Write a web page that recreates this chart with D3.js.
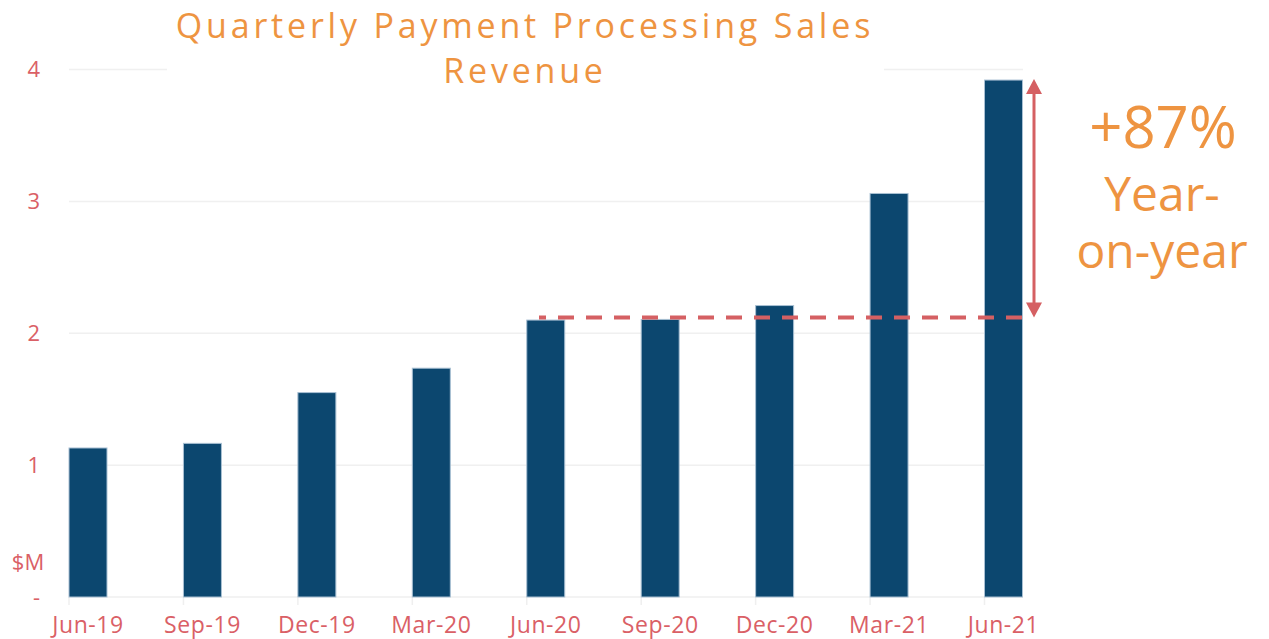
<!DOCTYPE html>
<html>
<head>
<meta charset="utf-8">
<script src="https://cdn.jsdelivr.net/npm/d3@7"></script>
<style>
  body { margin: 0; background: #fff; }
  svg { display: block; }
</style>
</head>
<body>
<div id="chart"></div>
<script>
// quarterly revenue, $M
const quarters = ["Jun-19", "Sep-19", "Dec-19", "Mar-20", "Jun-20", "Sep-20", "Dec-20", "Mar-21", "Jun-21"];
const revenue = [1.13, 1.165, 1.55, 1.735, 2.10, 2.105, 2.21, 3.06, 3.92];
const yTicks = [0, 1, 2, 3, 4];
const yTickLabels = ["-", "1", "2", "3", "4"];
const baseLevel = 2.12;   // dashed reference (a year earlier)
const growthLabel = ["+87%", "Year-", "on-year"];
const titleLines = ["Quarterly Payment Processing Sales", "Revenue"];

const W = 1269, H = 639;
const labelColor = "#da6066",
  accent = "#d56063",
  orange = "#ee9441",
  barColor = "#0c476f";
const font = "'Open Sans', sans-serif";

const svg = d3.select("#chart").append("svg")
  .attr("width", W)
  .attr("height", H);

const x = d3.scaleBand()
  .domain(quarters)
  .range([69, 1022.5])
  .paddingInner(0.668)
  .paddingOuter(0);

const y = d3.scaleLinear()
  .domain([0, 4])
  .range([597, 69.5]);

// gridlines
svg.append("g").selectAll("line").data(yTicks.slice(1))
  .join("line")
  .attr("x1", 69)
  .attr("x2", 1023)
  .attr("y1", d => y(d))
  .attr("y2", d => y(d))
  .attr("stroke", "#f0f0f0")
  .attr("stroke-width", 1.5);

// x baseline + ticks at the left edge of each bar
svg.append("line")
  .attr("x1", 69).attr("x2", 1023)
  .attr("y1", y(0)).attr("y2", y(0))
  .attr("stroke", "#efefef").attr("stroke-width", 1.5);
svg.append("g").selectAll("line").data(quarters)
  .join("line")
  .attr("x1", d => x(d)).attr("x2", d => x(d))
  .attr("y1", y(0)).attr("y2", y(0) + 8)
  .attr("stroke", "#efefef").attr("stroke-width", 1.5);

// y labels
const yAxisG = svg.append("g")
  .attr("transform", "translate(40,0)")
  .call(d3.axisLeft(y).tickValues(yTicks).tickSize(0).tickPadding(0)
    .tickFormat((d, i) => yTickLabels[i]));
yAxisG.select(".domain").remove();
yAxisG.selectAll("text")
  .attr("fill", labelColor)
  .style("font-family", font)
  .style("font-size", "22px");

svg.append("text")
  .attr("x", 28).attr("y", 570)
  .attr("text-anchor", "middle")
  .attr("fill", labelColor)
  .style("font-family", font)
  .style("font-size", "22px")
  .text("$M");

// x labels
const xAxisG = svg.append("g")
  .attr("transform", `translate(0, ${y(0)})`)
  .call(d3.axisBottom(x).tickSize(0).tickPadding(20));
xAxisG.select(".domain").remove();
xAxisG.selectAll("text")
  .attr("fill", labelColor)
  .style("font-family", font)
  .style("font-size", "23px")
  .style("letter-spacing", "0.6px");

// bars
svg.append("g").selectAll("rect").data(quarters)
  .join("rect")
  .attr("x", d => x(d))
  .attr("y", (d, i) => y(revenue[i]))
  .attr("width", x.bandwidth())
  .attr("height", (d, i) => y(0) - y(revenue[i]))
  .attr("fill", barColor)
  .attr("stroke", "#a9c0d3")
  .attr("stroke-width", 1);

// title with white backing that hides the top gridline
svg.append("rect")
  .attr("x", 167).attr("y", 0)
  .attr("width", 717).attr("height", 95)
  .attr("fill", "#fff");
svg.append("text")
  .attr("text-anchor", "middle")
  .attr("fill", orange)
  .style("font-family", font)
  .style("font-size", "34px")
  .style("letter-spacing", "3.8px")
  .selectAll("tspan").data(titleLines)
  .join("tspan")
  .attr("x", 525)
  .attr("y", (d, i) => 38 + i * 45)
  .text(d => d);

// dashed level line
svg.append("line")
  .attr("x1", 539).attr("x2", 1022)
  .attr("y1", y(baseLevel)).attr("y2", y(baseLevel))
  .attr("stroke", accent)
  .attr("stroke-width", 4)
  .attr("stroke-dasharray", "16 12")
  .attr("stroke-dashoffset", 9);

// double arrow
const ax = 1034,
  yTop = y(revenue[revenue.length - 1]) - 1,
  yBot = y(baseLevel);
svg.append("line")
  .attr("x1", ax).attr("x2", ax)
  .attr("y1", yTop + 12).attr("y2", yBot - 12)
  .attr("stroke", accent).attr("stroke-width", 3);
svg.append("path")
  .attr("d", `M${ax},${yTop} L${ax - 8},${yTop + 15} L${ax + 8},${yTop + 15} Z`)
  .attr("fill", accent);
svg.append("path")
  .attr("d", `M${ax},${yBot} L${ax - 8},${yBot - 15} L${ax + 8},${yBot - 15} Z`)
  .attr("fill", accent);

// annotation
svg.append("text")
  .attr("x", 1163).attr("y", 148)
  .attr("text-anchor", "middle")
  .attr("fill", orange)
  .style("font-family", font)
  .style("font-size", "58px")
  .text(growthLabel[0]);
svg.selectAll("text.yoy").data(growthLabel.slice(1))
  .join("text")
  .attr("class", "yoy")
  .attr("x", 1162)
  .attr("y", (d, i) => 211 + i * 57)
  .attr("text-anchor", "middle")
  .attr("fill", orange)
  .style("font-family", font)
  .style("font-size", "48px")
  .text(d => d);
</script>
</body>
</html>
